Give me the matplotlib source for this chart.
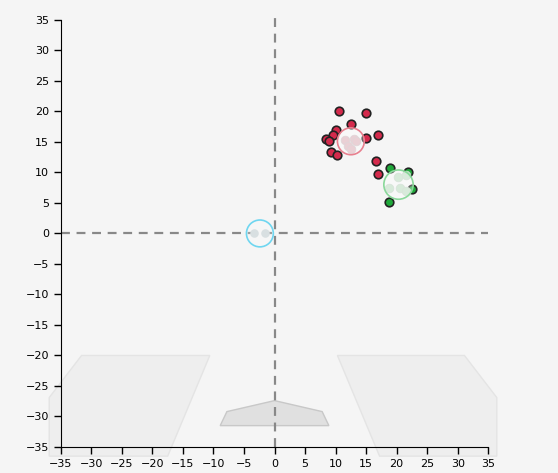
import matplotlib
matplotlib.use("Agg")
import matplotlib.pyplot as plt
from matplotlib.patches import Polygon, Circle

red_x = [10.5, 14.9, 12.6, 10.0, 9.5, 8.4, 8.9, 16.9, 14.9, 9.3, 10.2, 16.6, 16.9]
red_y = [20.0, 19.7, 18.0, 17.0, 16.2, 15.4, 15.1, 16.1, 15.7, 13.4, 12.8, 11.8, 9.8]
red_faded_x = [11.6, 13.0, 12.0, 12.5, 13.3]
red_faded_y = [15.3, 15.4, 14.3, 13.8, 15.1]
red_center = (12.5, 15.1)

green_x = [18.9, 21.8, 22.5, 18.7]
green_y = [10.7, 10.0, 7.2, 5.1]
green_faded_x = [20.2, 21.5, 18.7, 20.5, 21.5]
green_faded_y = [9.3, 9.5, 7.5, 7.5, 7.0]
green_center = (20.3, 8.0)

blue_faded_x = [-3.3, -1.5]
blue_faded_y = [0.0, 0.0]
blue_center = (-2.4, 0.0)

left_poly = [(-36.9, -26.9), (-31.6, -20), (-10.6, -20), (-17.5, -36.5), (-36.9, -36.5)]
right_poly = [(10.3, -20), (31.1, -20), (36.4, -26.9), (36.4, -36.5), (17.2, -36.5)]
center_poly = [(-8.9, -31.5), (-7.8, -29.2), (0, -27.4), (7.8, -29.2), (8.9, -31.5)]

ticks = list(range(-35, 36, 5))

fig = plt.figure(figsize=(5.58, 4.73), dpi=100, facecolor="#f5f5f5")
ax = fig.add_axes([0.109, 0.055, 0.766, 0.903])
ax.set_facecolor("#f5f5f5")
ax.set_xlim(-35, 35)
ax.set_ylim(-35, 35)

for poly in (left_poly, right_poly):
    ax.add_patch(Polygon(poly, closed=True, facecolor="#eeeeee", edgecolor="#e4e4e4", lw=1, clip_on=False, zorder=1))
ax.add_patch(Polygon(center_poly, closed=True, facecolor="#e0e0e0", edgecolor="#c8c8c8", lw=1, zorder=1))

ax.plot([0, 0], [-35, 36], color="#888888", ls=(0, (4, 3)), lw=1.6, zorder=2, clip_on=False)
ax.axhline(0, color="#888888", ls=(0, (4, 3)), lw=1.6, zorder=2)

ax.scatter(red_x, red_y, s=38, c="#d42a4c", edgecolors="#222222", linewidths=1.2, zorder=3)
ax.scatter(green_x, green_y, s=38, c="#1fa83a", edgecolors="#222222", linewidths=1.2, zorder=3)

ax.scatter(red_faded_x, red_faded_y, s=38, c="#e2bcc4", edgecolors="#d4c4c8", linewidths=0.6, zorder=4)
ax.scatter(green_faded_x, green_faded_y, s=38, c="#c6e2cb", edgecolors="#c8d8ca", linewidths=0.6, zorder=4)
ax.scatter(blue_faded_x, blue_faded_y, s=38, c="#cfd8da", linewidths=0, zorder=4)

ax.add_patch(Circle(red_center, 2.2, facecolor=(1, 1, 1, 0.3), edgecolor="#e8808f", lw=1.2, zorder=5))
ax.add_patch(Circle(green_center, 2.4, facecolor=(1, 1, 1, 0.3), edgecolor="#8ad89a", lw=1.2, zorder=5))
ax.add_patch(Circle(blue_center, 2.2, facecolor=(1, 1, 1, 0.2), edgecolor="#6fd6f0", lw=1.2, zorder=5))

ax.set_xticks(ticks)
ax.set_yticks(ticks)
ax.tick_params(labelsize=8, length=5, width=1)
for s in ("top", "right"):
    ax.spines[s].set_visible(False)
for s in ("left", "bottom"):
    ax.spines[s].set_color("#000000")

fig.savefig("out.png", dpi=100, facecolor=fig.get_facecolor())
